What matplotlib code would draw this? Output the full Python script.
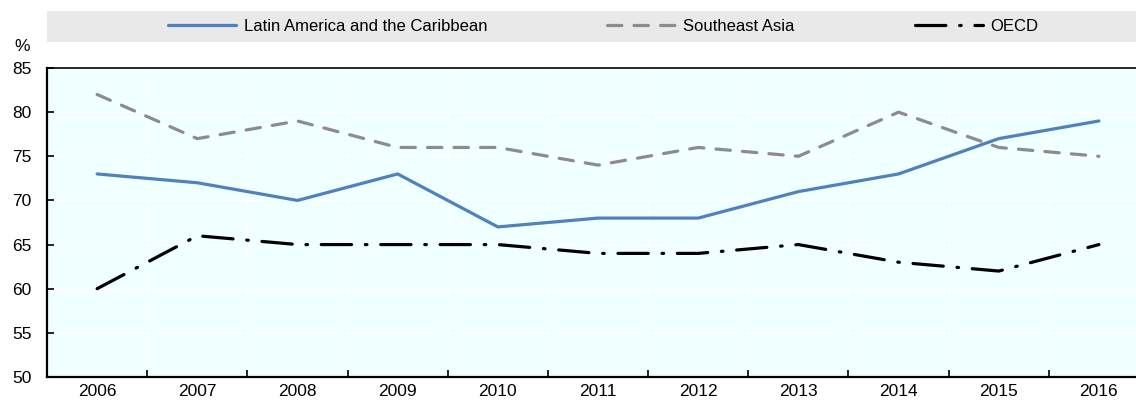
import matplotlib
matplotlib.use("Agg")
import matplotlib.pyplot as plt
from matplotlib.patches import Rectangle
import numpy as np

plt.rcParams['font.family'] = ['Liberation Sans', 'DejaVu Sans']

years = ["2006", "2007", "2008", "2009", "2010", "2011",
         "2012", "2013", "2014", "2015", "2016"]
lac = [73, 72, 70, 73, 67, 68, 68, 71, 73, 77, 79]
sea = [82, 77, 79, 76, 76, 74, 76, 75, 80, 76, 75]
oecd = [60, 66, 65, 65, 65, 64, 64, 65, 63, 62, 65]

x = np.arange(len(years))

fig = plt.figure(figsize=(11.36, 4.0), dpi=100)
ax = fig.add_axes([0.0414, 0.0575, 0.9586, 0.7725])
ax.set_facecolor("#F0FFFF")

ax.plot(x, lac, color="#4F81BD", lw=2.3, label="Latin America and the Caribbean",
        solid_capstyle="round")
ax.plot(x, sea, color="#8C8C8C", lw=2.3, dashes=(4.5, 3.8), dash_capstyle="round",
        label="Southeast Asia")
ax.plot(x, oecd, color="black", lw=2.3, dashes=(9.5, 4.3, 0.5, 4.3), dash_capstyle="round",
        label="OECD")

ax.set_ylim(50, 85)
ax.set_yticks(np.arange(50, 86, 5))
ax.set_xlim(-0.5, 10.37)
ax.set_xticks(x)
ax.set_xticklabels(years)
ax.set_xticks(np.arange(0.5, 10, 1), minor=True)

ax.grid(True, which="major", axis="y", color="white", lw=1)
ax.grid(True, which="minor", axis="x", color="white", lw=1)
ax.set_axisbelow(True)

ax.tick_params(axis="x", which="major", length=0, labelsize=12.5, pad=5)
ax.tick_params(axis="x", which="minor", direction="in", length=5, width=1.2)
ax.tick_params(axis="y", direction="in", length=5, width=1.2, labelsize=12.5, pad=11)

for s in ["left", "bottom"]:
    ax.spines[s].set_linewidth(1.6)
ax.spines["top"].set_linewidth(1.2)
ax.spines["right"].set_visible(False)

fig.text(0.0195, 0.865, "%", fontsize=12.5, ha="center", va="bottom")

# legend band
fig.patches.append(Rectangle((0.0414, 0.895), 0.9586, 0.0775, transform=fig.transFigure,
                             facecolor="#E9E9E9", edgecolor="none", zorder=0))
fig.legend(loc="center", bbox_to_anchor=(0.531, 0.933), ncol=3, frameon=False,
           fontsize=12, handlelength=4.1, handletextpad=0.45, columnspacing=7.2)

fig.savefig("out.png", dpi=100)
